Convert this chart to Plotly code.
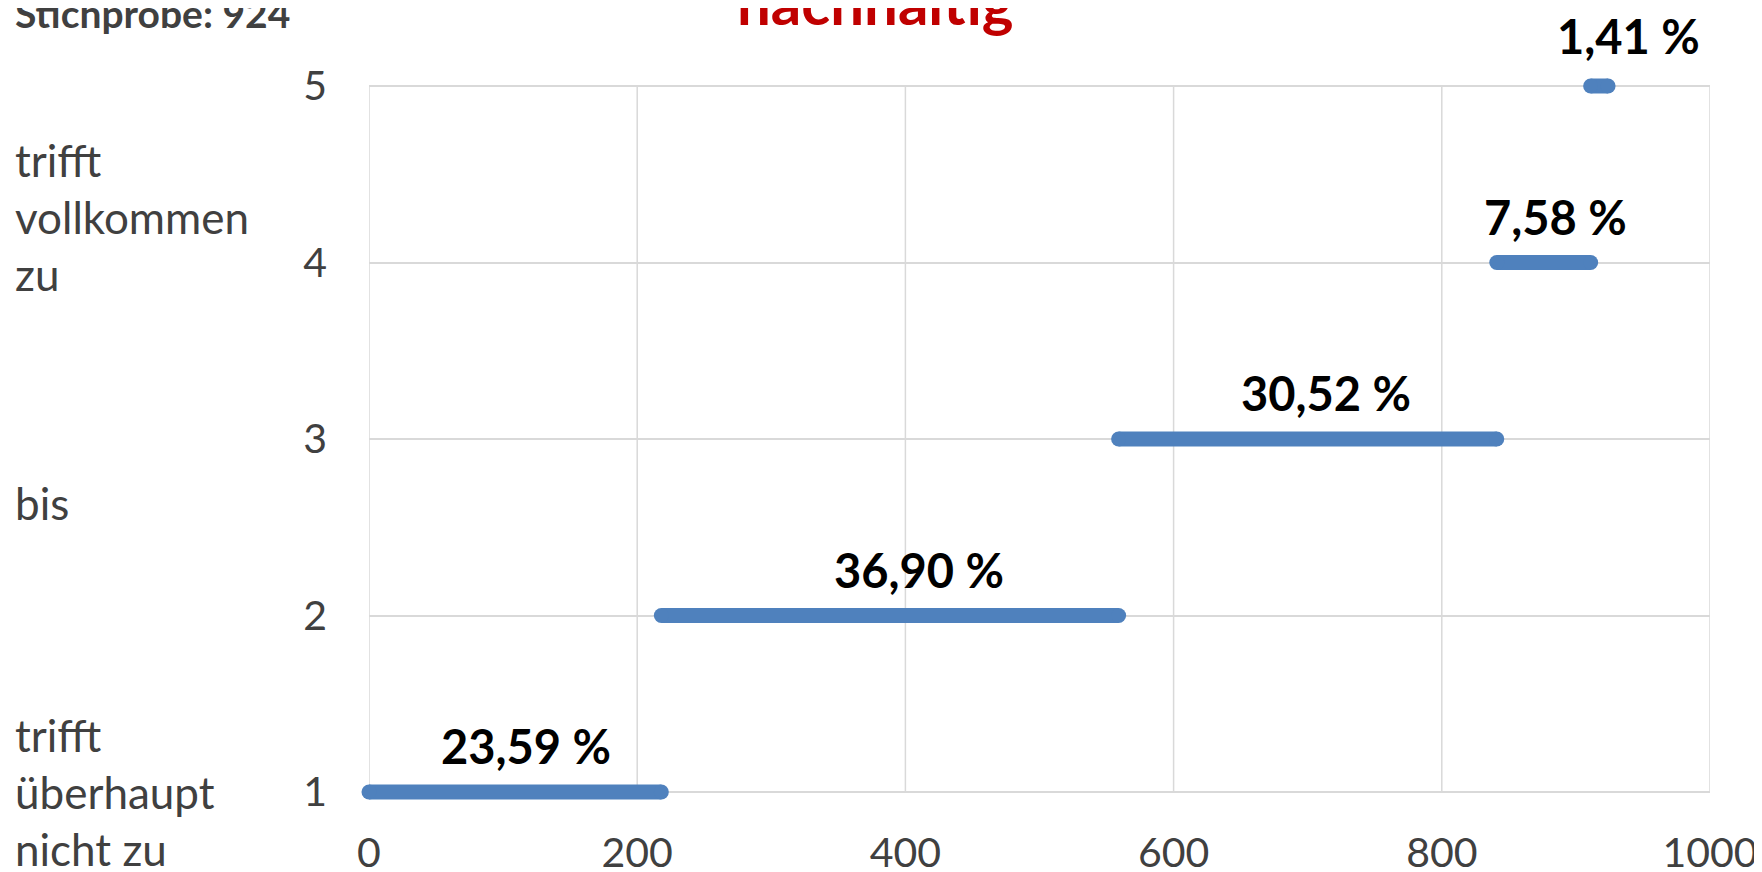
import plotly.graph_objects as go

# Data
levels = [1, 2, 3, 4, 5]
counts = [218, 341, 282, 70, 13]
pct_labels = ["23,59 %", "36,90 %", "30,52 %", "7,58 %", "1,41 %"]
x_ticks = [0, 200, 400, 600, 800, 1000]
sample_text = "Stichprobe: 924"
title_text = "nachhaltig"

# label placement (pixel offsets, layout only)
LABEL_DX = [11, 29, 18, 12, 29]
LABEL_DY = [46, 46, 46, 46, 50]

FONT = "Lato"
BLUE = "#4F81BD"
GRAY = "#404040"
GRID = "#D9D9D9"

W, H = 1762, 872
PAD = 0.051  # y-range padding so thick end segments are not clipped
L, R = 361, 60
T, B = 69, 79
ph = H - T - B

fig = go.Figure()

# vertical gridlines between y=1 and y=5
for xv in x_ticks:
    fig.add_shape(type="line", xref="x", yref="y", x0=xv, x1=xv, y0=levels[0], y1=levels[-1],
                  line=dict(color=GRID, width=1.5), layer="below")

start = 0
for i, (lvl, c, lab) in enumerate(zip(levels, counts, pct_labels)):
    end = start + c
    fig.add_trace(go.Scatter(
        x=[start, end], y=[lvl, lvl], mode="lines+markers",
        line=dict(color=BLUE, width=15),
        marker=dict(color=BLUE, size=15, symbol="circle", line=dict(width=0)),
        showlegend=False, hoverinfo="skip", cliponaxis=False,
    ))
    fig.add_annotation(x=(start + end) / 2, y=lvl, text="<b>" + lab + "</b>",
                       showarrow=False, xshift=LABEL_DX[i], yshift=LABEL_DY[i],
                       font=dict(family=FONT, size=47, color="black"))
    start = end


def py(pix):
    return (H - B - pix) / ph


side = [("trifft<br>vollkommen<br>zu", 209), ("bis", 495), ("trifft<br>überhaupt<br>nicht zu", 784)]
for txt, ypix in side:
    fig.add_annotation(xref="paper", yref="paper", x=0, xshift=-(L - 5), xanchor="left",
                       y=py(ypix), yanchor="middle", text=txt, showarrow=False, align="left",
                       font=dict(family=FONT, size=44, color=GRAY))

fig.add_annotation(xref="paper", yref="paper", x=0, xshift=-(L - 5), xanchor="left",
                   y=py(30), yanchor="bottom", text="<b>" + sample_text + "</b>", showarrow=False,
                   font=dict(family=FONT, size=39, color=GRAY))
fig.add_annotation(xref="paper", yref="paper", x=0.5, xshift=(867 - (L + (W - R)) / 2),
                   y=py(32), yanchor="bottom", text="<b>" + title_text + "</b>", showarrow=False,
                   font=dict(family=FONT, size=60, color="#C00000"))

fig.update_layout(
    width=W, height=H,
    margin=dict(l=L, r=R, t=T, b=B, autoexpand=False),
    paper_bgcolor="white", plot_bgcolor="white",
    xaxis=dict(range=[0, 1000], tickvals=x_ticks, showgrid=False, automargin=False,
               zeroline=False, showline=False, ticks="", ticklabelstandoff=24,
               tickfont=dict(family=FONT, size=41, color=GRAY)),
    yaxis=dict(range=[levels[0] - PAD, levels[-1] + PAD], tickvals=levels, showgrid=True,
               gridcolor=GRID, gridwidth=1.5, automargin=False,
               zeroline=False, showline=False, ticks="", ticklabelstandoff=41,
               tickfont=dict(family=FONT, size=41, color=GRAY)),
)

fig.write_html("out.html")
